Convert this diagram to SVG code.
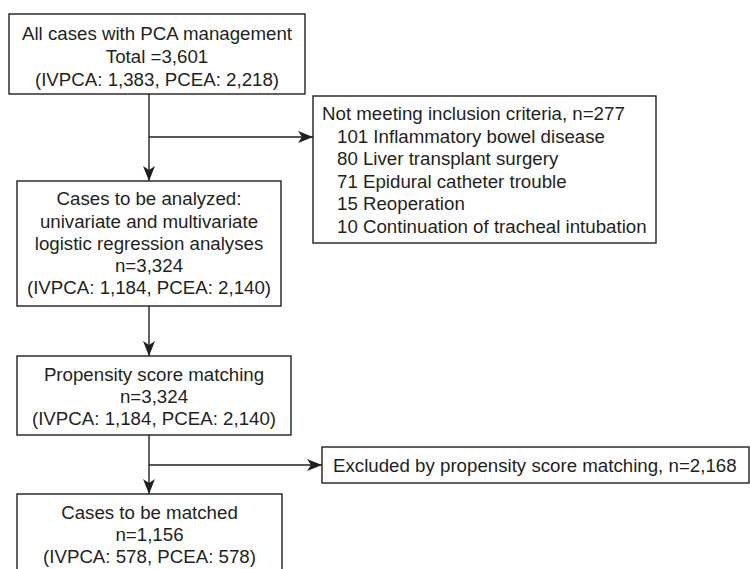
<svg xmlns="http://www.w3.org/2000/svg" width="750" height="569" viewBox="0 0 750 569">
<style>
.box{fill:#fff;stroke:#231f20;stroke-width:1.4}
.t{font-family:"Liberation Sans",Arial,sans-serif;font-size:18.7px;fill:#231f20}
.c{text-anchor:middle}
.ln{fill:none;stroke:#231f20;stroke-width:1.4}
</style>
<defs>
<marker id="ah" markerUnits="userSpaceOnUse" markerWidth="16" markerHeight="12" viewBox="0 0 16 12" refX="15" refY="6" orient="auto">
<path d="M0,0 L15,6 L0,12 L4,6 Z" fill="#231f20"/>
</marker>
</defs>
<g id="connectors">
<line class="ln" x1="149" y1="94" x2="149" y2="181" marker-end="url(#ah)"/>
<line class="ln" x1="149" y1="137" x2="313" y2="137" marker-end="url(#ah)"/>
<line class="ln" x1="149" y1="306" x2="149" y2="356" marker-end="url(#ah)"/>
<line class="ln" x1="149" y1="435" x2="149" y2="494" marker-end="url(#ah)"/>
<line class="ln" x1="149" y1="465" x2="322" y2="465" marker-end="url(#ah)"/>
</g>
<g id="n1">
<rect class="box" x="9" y="14" width="296" height="80"/>
<text class="t c" x="157" y="39.5">All cases with PCA management</text>
<text class="t c" x="157" y="63">Total =3,601</text>
<text class="t c" x="157" y="86">(IVPCA: 1,383, PCEA: 2,218)</text>
</g>
<g id="n2">
<rect class="box" x="313" y="96" width="343" height="147"/>
<text class="t" x="322" y="120">Not meeting inclusion criteria, n=277</text>
<text class="t" x="337" y="142.5">101 Inflammatory bowel disease</text>
<text class="t" x="337" y="165">80 Liver transplant surgery</text>
<text class="t" x="337" y="187.5">71 Epidural catheter trouble</text>
<text class="t" x="337" y="210">15 Reoperation</text>
<text class="t" x="337" y="232.5">10 Continuation of tracheal intubation</text>
</g>
<g id="n3">
<rect class="box" x="17" y="181" width="264" height="125"/>
<text class="t c" x="149" y="205">Cases to be analyzed:</text>
<text class="t c" x="149" y="227.5">univariate and multivariate</text>
<text class="t c" x="149" y="250">logistic regression analyses</text>
<text class="t c" x="149" y="272">n=3,324</text>
<text class="t c" x="149" y="294">(IVPCA: 1,184, PCEA: 2,140)</text>
</g>
<g id="n4">
<rect class="box" x="17" y="356" width="274" height="79"/>
<text class="t c" x="154" y="381">Propensity score matching</text>
<text class="t c" x="154" y="403">n=3,324</text>
<text class="t c" x="154" y="425">(IVPCA: 1,184, PCEA: 2,140)</text>
</g>
<g id="n5">
<rect class="box" x="322" y="447" width="427" height="36"/>
<text class="t" x="333" y="472">Excluded by propensity score matching, n=2,168</text>
</g>
<g id="n6">
<rect class="box" x="17" y="494" width="265" height="85"/>
<text class="t c" x="149.5" y="519">Cases to be matched</text>
<text class="t c" x="149.5" y="541">n=1,156</text>
<text class="t c" x="149.5" y="563">(IVPCA: 578, PCEA: 578)</text>
</g>
</svg>
